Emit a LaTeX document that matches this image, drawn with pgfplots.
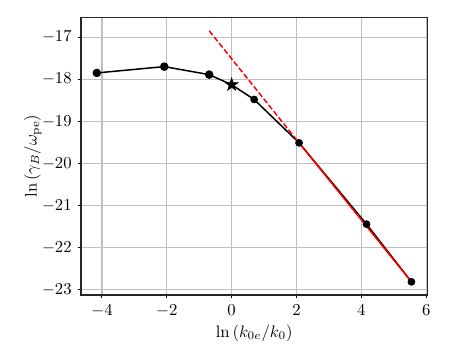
\documentclass[border=0pt]{standalone}
\usepackage{pgfplots}
\pgfplotsset{compat=1.18}
\pgfdeclareplotmark{fstar}{%
  \pgfpathmoveto{\pgfqpointpolar{90}{\pgfplotmarksize}}%
  \pgfpathlineto{\pgfqpointpolar{126}{0.382\pgfplotmarksize}}%
  \pgfpathlineto{\pgfqpointpolar{162}{\pgfplotmarksize}}%
  \pgfpathlineto{\pgfqpointpolar{198}{0.382\pgfplotmarksize}}%
  \pgfpathlineto{\pgfqpointpolar{234}{\pgfplotmarksize}}%
  \pgfpathlineto{\pgfqpointpolar{270}{0.382\pgfplotmarksize}}%
  \pgfpathlineto{\pgfqpointpolar{306}{\pgfplotmarksize}}%
  \pgfpathlineto{\pgfqpointpolar{342}{0.382\pgfplotmarksize}}%
  \pgfpathlineto{\pgfqpointpolar{18}{\pgfplotmarksize}}%
  \pgfpathlineto{\pgfqpointpolar{54}{0.382\pgfplotmarksize}}%
  \pgfpathclose
  \pgfusepathqfillstroke}
\begin{document}
\begin{tikzpicture}
\begin{axis}[
  name=ax,
  scale only axis,
  width=207.6pt, height=166.4pt,
  xmin=-4.645, xmax=6.035,
  ymin=-23.12, ymax=-16.53,
  xtick={-4,-2,0,2,4,6},
  ytick={-23,-22,-21,-20,-19,-18,-17},
  tick align=outside, tick pos=left,
  major tick length=2.1pt,
  grid=major,
  grid style={line width=0.7pt, color=black!25},
  axis line style={line width=0.8pt, black!85},
  every tick/.style={line width=0.6pt, black},
  tick label style={font=\fontsize{10}{12}\selectfont},
  label style={font=\fontsize{10}{12}\selectfont},
  xlabel={$\ln\left(k_{0e}/k_0\right)$},
  ylabel={$\ln\left(\gamma_B/\omega_{\mathrm{pe}}\right)$},
  xlabel style={yshift=2pt},
  ylabel style={yshift=-6.5pt},
]
\addplot[black, line width=0.9pt, mark=*, mark size=2.1pt, mark options={solid}] coordinates {
  (-4.159,-17.85) (-2.079,-17.70) (-0.693,-17.89)
};
\addplot[black, line width=0.9pt] coordinates {
  (-0.693,-17.89) (0,-18.13) (0.693,-18.48) (2.079,-19.51) (4.159,-21.44) (5.545,-22.81)
};
\addplot[black, only marks, mark=*, mark size=2.1pt] coordinates {
  (0.693,-18.48) (2.079,-19.51) (4.159,-21.44) (5.545,-22.81)
};
\addplot[black, only marks, mark=fstar, mark size=4pt] coordinates {(0,-18.13)};
\addplot[red, line width=0.9pt, dash pattern=on 3.3pt off 1.45pt] coordinates {
  (-0.693,-16.85) (2.079,-19.51)
};
\addplot[red, line width=0.9pt] coordinates {
  (2.079,-19.51) (5.545,-22.81)
};
\end{axis}
\path ([xshift=-48.6pt,yshift=-38.6pt]ax.south west) rectangle ([xshift=13pt,yshift=10.4pt]ax.north east);
\end{tikzpicture}
\end{document}
